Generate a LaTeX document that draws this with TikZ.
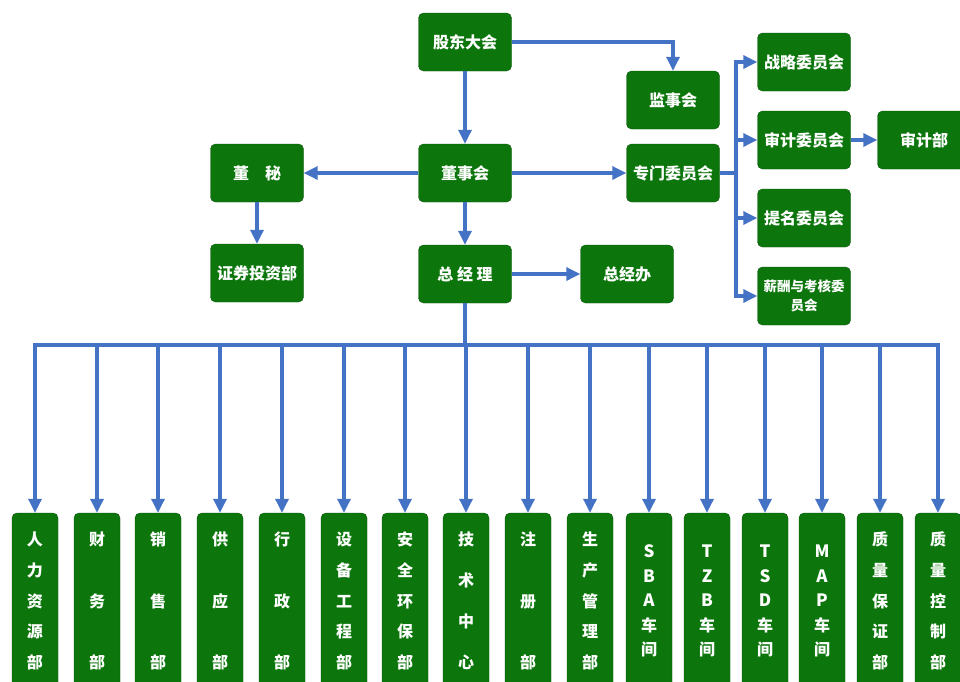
\documentclass[tikz,border=0pt]{standalone}
\usepackage{fontspec}
\setmainfont{Noto Sans CJK SC}
\usetikzlibrary{arrows.meta}
\definecolor{verde}{RGB}{12,118,12}
\definecolor{azul}{RGB}{68,114,196}
\newcommand{\letra}[1]{{\fontsize{17}{17}\selectfont #1}}

\begin{document}
\begin{tikzpicture}[x=1pt,y=-1pt,>={Triangle[length=14pt,width=13pt]},
  caixa/.style={fill=verde,draw=verde!70!black,rounded corners=5pt,text=white,
    font=\bfseries\fontsize{16}{19}\selectfont,minimum width=93pt,
    minimum height=58pt,inner sep=2pt,align=center},
  depto/.style={caixa,minimum width=46pt,minimum height=176pt},
  seta/.style={azul,line width=3.2pt,->}]
	\useasboundingbox (0,0) rectangle (960,681);
	\clip (0,0) rectangle (960,681);
	% topo
	\node[caixa] (gd) at (465,42) {股东大会};
	\node[caixa] (js) at (673,100) {监事会};
	\node[caixa] (dsh) at (465,173) {董事会};
	\node[caixa] (dm) at (257,173) {董\quad 秘};
	\node[caixa] (zm) at (673,173) {专门委员会};
	\node[caixa] (zq) at (257,273) {证券投资部};
	\node[caixa] (zjl) at (465,274) {总\ 经\ 理};
	\node[caixa] (zjb) at (627,274) {总经办};
	% comites
	\node[caixa] (c1) at (804,62) {战略委员会};
	\node[caixa] (c2) at (804,140) {审计委员会};
	\node[caixa] (c3) at (804,218) {提名委员会};
	\node[caixa,font=\bfseries\fontsize{13.5}{19}\selectfont] (c4) at (804,296) {薪酬与考核委\\员会};
	\node[caixa] (sj) at (924,140) {审计部};
	% setas do topo
	\draw[seta] (gd.east) -| (js.north);
	\draw[seta] (gd) -- (dsh);
	\draw[seta] (dsh) -- (dm);
	\draw[seta] (dsh) -- (zm);
	\draw[seta] (dm) -- (zq);
	\draw[seta] (dsh) -- (zjl);
	\draw[seta] (zjl) -- (zjb);
	\draw[seta] (c2) -- (sj);
	\coordinate (tronco) at (736,173);
	\draw[azul,line width=3.2pt] (zm.east) -- (tronco);
	\foreach \i in {1,...,4}
		\draw[seta] (tronco) |- (c\i.west);
	% departamentos
	\foreach \i/\x/\s/\t in {1/35/30.75/{人\\力\\资\\源\\部},
	  2/97/61.5/{财\\务\\部}, 3/158/61.5/{销\\售\\部}, 4/220/61.5/{供\\应\\部},
	  5/282/61.5/{行\\政\\部}, 6/344/30.75/{设\\备\\工\\程\\部},
	  7/405/30.75/{安\\全\\环\\保\\部}, 8/466/41/{技\\术\\中\\心},
	  9/528/61.5/{注\\册\\部}, 10/590/30.75/{生\\产\\管\\理\\部},
	  11/649/24.5/{\letra{S}\\\letra{B}\\\letra{A}\\车\\间},
	  12/707/24.5/{\letra{T}\\\letra{Z}\\\letra{B}\\车\\间},
	  13/765/24.5/{\letra{T}\\\letra{S}\\\letra{D}\\车\\间},
	  14/822/24.5/{\letra{M}\\\letra{A}\\\letra{P}\\车\\间},
	  15/880/30.75/{质\\量\\保\\证\\部}, 16/938/30.75/{质\\量\\控\\制\\部}}
		\node[depto,font=\bfseries\fontsize{16}{\s}\selectfont] (d\i) at (\x,601) {\t};
	\coordinate (hub) at (465,345);
	\draw[azul,line width=3.2pt] (zjl) -- (hub);
	\foreach \i in {1,...,16}
		\draw[seta] (hub) -| (d\i.north);
\end{tikzpicture}
\end{document}
